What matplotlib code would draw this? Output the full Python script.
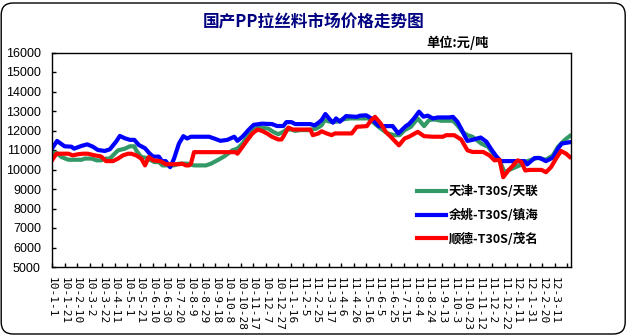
import matplotlib
matplotlib.use("Agg")
import matplotlib.pyplot as plt
from matplotlib.patches import FancyBboxPatch
from matplotlib.transforms import ScaledTranslation

# Day offsets counted from 2010-01-01, prices in yuan per tonne
tianjin_days = [0, 7, 15, 26, 47, 52, 63, 71, 78, 86, 92, 97, 105, 116, 124, 131, 134, 142, 150,
                163, 170, 176, 194, 202, 215, 226, 245, 253, 263, 274, 287, 295, 303, 313, 324,
                332, 344, 352, 360, 368, 373, 381, 387, 395, 408, 413, 421, 429, 434, 442, 453,
                463, 474, 504, 513, 523, 534, 545, 553, 561, 571, 582, 592, 600, 608, 619, 638,
                645, 653, 661, 669, 683, 694, 704, 712, 720, 731, 744, 752, 763, 773, 786, 797,
                805, 816, 824]
tianjin_price = [10850, 10860, 10640, 10500, 10500, 10560, 10560, 10470, 10470, 10560, 10560, 10725,
                 10980, 11070, 11190, 11190, 10980, 10640, 10600, 10380, 10380, 10210, 10210, 10300,
                 10300, 10210, 10210, 10300, 10470, 10670, 10985, 11070, 11330, 11760, 12100, 12150,
                 12100, 11930, 11810, 11930, 12050, 12050, 11980, 12020, 12020, 12050, 12100, 12270,
                 12535, 12450, 12450, 12570, 12620, 12620, 12360, 12100, 11850, 11760, 11760, 12020,
                 12190, 12620, 12225, 12535, 12570, 12500, 12500, 12270, 11930, 11760, 11680, 11330,
                 11160, 10725, 10470, 9860, 10030, 10210, 10380, 10500, 10600, 10500, 10725, 11160,
                 11520, 11720]

yuyao_days = [0, 8, 20, 31, 35, 47, 56, 65, 73, 84, 92, 102, 108, 116, 124, 131, 138, 148, 155,
              161, 170, 175, 181, 188, 194, 202, 209, 215, 221, 250, 258, 268, 279, 290, 295, 303,
              313, 321, 334, 350, 358, 368, 373, 381, 387, 411, 418, 424, 429, 435, 442, 447, 452,
              458, 468, 485, 490, 500, 508, 520, 542, 551, 563, 568, 576, 584, 591, 598, 606, 614,
              632, 638, 645, 651, 656, 661, 669, 682, 691, 700, 707, 714, 752, 756, 768, 776, 786,
              797, 805, 811, 824]
yuyao_price = [11070, 11465, 11190, 11170, 11070, 11210, 11290, 11170, 11000, 10950, 11035, 11430,
               11720, 11600, 11520, 11520, 11260, 11090, 10830, 10660, 10660, 10430, 10430, 10120,
               10540, 11330, 11710, 11590, 11680, 11680, 11590, 11470, 11520, 11680, 11470, 11680,
               12040, 12290, 12350, 12330, 12230, 12230, 12430, 12430, 12330, 12330, 12260, 12400,
               12535, 12845, 12570, 12400, 12620, 12450, 12740, 12700, 12760, 12780, 12620, 12225,
               12225, 11850, 12225, 12330, 12620, 12965, 12710, 12760, 12620, 12670, 12670, 12700,
               12450, 12100, 11760, 11465, 11520, 11640, 11430, 10985, 10675, 10430, 10430, 10260,
               10590, 10590, 10430, 10610, 11070, 11330, 11400]

shunde_days = [0, 7, 26, 33, 41, 49, 57, 68, 78, 86, 97, 105, 113, 121, 126, 134, 142, 148, 154,
               161, 173, 181, 202, 207, 213, 218, 221, 226, 292, 295, 303, 311, 319, 327, 334, 342,
               350, 360, 365, 368, 376, 383, 411, 415, 424, 429, 437, 445, 450, 477, 485, 501, 508,
               514, 523, 531, 539, 552, 561, 568, 582, 592, 606, 622, 627, 640, 651, 661, 669, 686,
               696, 704, 712, 718, 726, 731, 741, 747, 753, 760, 779, 786, 794, 802, 810, 818, 824]
shunde_price = [10470, 10810, 10810, 10725, 10780, 10810, 10810, 10725, 10670, 10430, 10430, 10560,
                10725, 10810, 10810, 10725, 10560, 10210, 10640, 10470, 10420, 10270, 10270, 10300,
                10210, 10210, 10300, 10890, 10890, 10810, 11160, 11520, 11850, 12050, 11980, 11850,
                11680, 11540, 11540, 11680, 12150, 12050, 12050, 11760, 11850, 11960, 11850, 11760,
                11850, 11850, 12190, 12225, 12535, 12700, 12360, 11930, 11680, 11240, 11590, 11680,
                11930, 11710, 11680, 11680, 11760, 11760, 11540, 10985, 10900, 10900, 10725, 10470,
                10500, 9605, 9950, 10120, 10470, 10380, 9950, 9980, 9980, 9860, 10120, 10560, 10950,
                10810, 10640]

tick_labels = ['10-1-1', '10-1-21', '10-2-10', '10-3-2', '10-3-22', '10-4-11', '10-5-1',
               '10-5-21', '10-6-10', '10-6-30', '10-7-20', '10-8-9', '10-8-29', '10-9-18',
               '10-10-8', '10-10-28', '10-11-17', '10-12-7', '10-12-27', '11-1-16', '11-2-5',
               '11-2-25', '11-3-17', '11-4-6', '11-4-26', '11-5-16', '11-6-5', '11-6-25',
               '11-7-15', '11-8-4', '11-8-24', '11-9-13', '11-10-3', '11-10-23', '11-11-12',
               '11-12-2', '11-12-22', '12-1-11', '12-1-31', '12-2-20', '12-3-11']
series_names = ['天津-T30S/天联', '余姚-T30S/镇海', '顺德-T30S/茂名']

CJK = ['Noto Sans CJK SC', 'DejaVu Sans']

fig = plt.figure(figsize=(6.29, 3.36), dpi=100)
fig.patch.set_facecolor('white')

# rounded outer frame
frame = FancyBboxPatch((0.012, 0.02), 6.24, 3.31,
                       boxstyle='round,pad=0,rounding_size=0.12',
                       transform=fig.dpi_scale_trans, facecolor='none',
                       edgecolor='black', linewidth=1.0)
fig.patches.append(frame)

ax = fig.add_axes([52 / 629, (336 - 267) / 336, (570.5 - 52) / 629, (267 - 52.5) / 336])

ax.plot(tianjin_days, tianjin_price, color='#339966', lw=3, label=series_names[0],
        solid_joinstyle='round')
ax.plot(yuyao_days, yuyao_price, color='#0000FF', lw=3, label=series_names[1],
        solid_joinstyle='round')
ax.plot(shunde_days, shunde_price, color='#FF0000', lw=3, label=series_names[2],
        solid_joinstyle='round')

ax.set_xlim(0, 825)
ax.set_ylim(5000, 16000)
ax.set_yticks(range(5000, 16001, 1000))
ax.set_yticklabels([str(v) for v in range(5000, 16001, 1000)],
                   fontfamily='Liberation Sans', fontsize=9)

ax.set_xticks(range(0, 20 * len(tick_labels), 20))
ax.set_xticks([820], minor=True)
ax.set_xticklabels(tick_labels, rotation=-90, fontfamily='DejaVu Sans Mono',
                   fontsize=8, va='top', ha='center')
shift = ScaledTranslation(-3 / 100, 0, fig.dpi_scale_trans)
for lbl in ax.get_xticklabels():
    lbl.set_transform(lbl.get_transform() + shift)

ax.tick_params(axis='y', direction='in', length=3, width=1, pad=8, left=True)
ax.tick_params(axis='x', which='both', direction='in', length=3, width=1, pad=7)
for s in ax.spines.values():
    s.set_linewidth(1.0)
    s.set_color('black')

leg = ax.legend(loc='upper left', bbox_to_anchor=(411 / 629, 1 - 179 / 336),
                bbox_transform=fig.transFigure, frameon=False,
                prop={'family': CJK, 'weight': 'bold', 'size': 9},
                handlelength=2.3, handletextpad=0.25, labelspacing=0.85, borderpad=0)

fig.text(313.5 / 629, 1 - 22 / 336, '国产PP拉丝料市场价格走势图', ha='center', va='center',
         fontsize=12, fontweight='bold', color='#000080', family=CJK)
fig.text(426 / 629, 1 - 43 / 336, '单位:元/吨', ha='left', va='center',
         fontsize=9.5, fontweight='bold', color='black', family=CJK)

fig.savefig('out.png', dpi=100)
